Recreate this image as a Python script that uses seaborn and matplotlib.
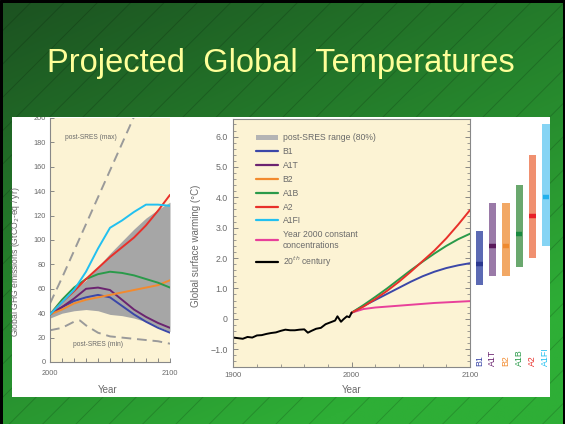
import numpy as np
import pandas as pd
import matplotlib
matplotlib.use("Agg")
import matplotlib.pyplot as plt
import seaborn as sns
from matplotlib.patches import Rectangle, Patch
from matplotlib.lines import Line2D

# ---------------- data ----------------
emis_years = [2000, 2010, 2020, 2030, 2040, 2050, 2060, 2070, 2080, 2090, 2100]
emis_B1   = [39, 45, 50, 53, 55, 53, 46, 39, 33, 28, 24]
emis_A1T  = [39, 45, 52, 60, 61, 59, 51, 43, 37, 32, 28]
emis_B2   = [39, 43, 48, 51, 53, 55, 57, 59, 61, 63, 67]
emis_A1B  = [39, 51, 61, 68, 72, 74, 73, 71, 68, 65, 61]
emis_A2   = [39, 49, 58, 68, 77, 86, 94, 102, 112, 124, 137]
emis_A1FI = [39, 49, 59, 74, 93, 110, 116, 123, 129, 129, 128]
range_low  = [36, 40, 42, 43, 42, 39, 38, 36, 33, 29, 25]
range_high = [40, 50, 59, 67, 78, 89, 99, 109, 118, 125, 131]
max_years = [2000, 2010, 2020, 2030, 2040, 2050, 2060, 2070]
max_vals  = [48, 69, 91, 113, 135, 157, 179, 201]
min_years = [2000, 2010, 2020, 2025, 2030, 2040, 2050, 2060, 2070, 2080, 2090, 2100]
min_vals  = [26, 28, 33, 34, 30, 24, 21, 20, 19, 18, 17, 15]

hist_years = [1900, 1904, 1908, 1912, 1916, 1920, 1924, 1928, 1932, 1936, 1940,
              1944, 1948, 1952, 1956, 1960, 1963, 1966, 1970, 1974, 1978, 1982,
              1986, 1988, 1991, 1993, 1996, 1998, 2000]
hist_temp = [-0.62, -0.64, -0.66, -0.60, -0.62, -0.55, -0.54, -0.50, -0.47, -0.45, -0.40,
             -0.36, -0.38, -0.38, -0.36, -0.35, -0.46, -0.40, -0.33, -0.30, -0.18, -0.12,
             -0.06, 0.08, -0.10, -0.02, 0.08, 0.05, 0.20]
proj_years = [2000, 2010, 2020, 2030, 2040, 2050, 2060, 2070, 2080, 2090, 2100]
temp_B1    = [0.20, 0.42, 0.62, 0.82, 1.02, 1.22, 1.40, 1.55, 1.67, 1.76, 1.83]
temp_A1B   = [0.20, 0.45, 0.72, 1.00, 1.30, 1.60, 1.88, 2.15, 2.40, 2.62, 2.80]
temp_A2    = [0.20, 0.40, 0.65, 0.92, 1.22, 1.55, 1.90, 2.25, 2.65, 3.10, 3.58]
temp_const = [0.20, 0.32, 0.37, 0.40, 0.43, 0.46, 0.49, 0.52, 0.54, 0.56, 0.58]

bar_scen = ["B1", "A1T", "B2", "A1B", "A2", "A1FI"]
bar_best = [1.8, 2.4, 2.4, 2.8, 3.4, 4.0]
bar_low  = [1.1, 1.4, 1.4, 1.7, 2.0, 2.4]
bar_high = [2.9, 3.8, 3.8, 4.4, 5.4, 6.4]

# ---------------- styles ----------------
line_col = {"B1": "#3b47a8", "A1T": "#6b2470", "B2": "#f28a2e", "A1B": "#2a9a4a",
            "A2": "#e8302a", "A1FI": "#22c0f0"}
bar_col = {"B1": "#5c6ab4", "A1T": "#9a7aa8", "B2": "#f2a865", "A1B": "#6aa86e",
           "A2": "#f09070", "A1FI": "#86d4f4"}
dot_col = {"B1": "#2c3890", "A1T": "#5a1a5c", "B2": "#ee8a30", "A1B": "#1a8a40",
           "A2": "#e82028", "A1FI": "#22b0ec"}
const_col = "#e8409a"
cream = "#fcf3d4"
txt = "#6a6a6a"
FONT = "Liberation Sans"

sns.set_theme(style="white")
plt.rcParams["font.family"] = [FONT, "DejaVu Sans"]
plt.rcParams["hatch.linewidth"] = 0.6

W, H = 565, 424
fig = plt.figure(figsize=(W / 100, H / 100), dpi=100)


def rect(x0, y0, x1, y1):
    return [x0 / W, 1 - y1 / H, (x1 - x0) / W, (y1 - y0) / H]


# ---------------- slide background ----------------
bg = fig.add_axes([0, 0, 1, 1])
bg.set_xlim(0, W)
bg.set_ylim(H, 0)
bg.axis("off")
bg.add_patch(Rectangle((0, 0), W, H, color="black", zorder=0))
gx, gy = np.meshgrid(np.linspace(0, 1, 300), np.linspace(0, 1, 300))
t = np.clip(0.45 * gx + 0.75 * gy, 0, 1)[..., None]
c0 = np.array([0x1c, 0x52, 0x21]) / 255
c1 = np.array([0x2e, 0xae, 0x36]) / 255
img = c0 * (1 - t) + c1 * t
bg.imshow(img, extent=(3, 563, H, 3), aspect="auto", zorder=1, interpolation="bilinear")
bg.add_patch(Rectangle((3, 3), 560, H - 3, fill=False, hatch="/",
                       edgecolor=(0, 0, 0, 0.18), lw=0, zorder=2))
panel = Rectangle((12, 117), 538, 280, facecolor="white", edgecolor="none", zorder=3)
bg.add_patch(panel)
bg.text(281, 72, "Projected  Global  Temperatures", ha="center", va="baseline",
        fontsize=23.5, color="#ffff99", zorder=4)

# ---------------- left: emissions ----------------
ax1 = fig.add_axes(rect(50, 118, 170, 362))
ax1.set_facecolor(cream)
ax1.fill_between(emis_years, range_low, range_high, color="#a6a6a6", lw=0, zorder=1)
emis = pd.DataFrame({
    "year": emis_years * 6,
    "value": emis_B1 + emis_A1T + emis_B2 + emis_A1B + emis_A2 + emis_A1FI,
    "scen": sum([[s] * len(emis_years) for s in ["B1", "A1T", "B2", "A1B", "A2", "A1FI"]], []),
})
sns.lineplot(data=emis, x="year", y="value", hue="scen", palette=line_col,
             lw=1.4, legend=False, ax=ax1, zorder=3)
sns.lineplot(x=max_years, y=max_vals, color="#9a9a9a", lw=1.4, ax=ax1, zorder=2)
ax1.lines[-1].set_dashes((5, 3))
sns.lineplot(x=min_years, y=min_vals, color="#9a9a9a", lw=1.4, ax=ax1, zorder=2)
ax1.lines[-1].set_dashes((5, 3))
ax1.text(2034, 184, "post-SRES (max)", ha="center", va="center", fontsize=4.8, color=txt)
ax1.text(2040, 14, "post-SRES (min)", ha="center", va="center", fontsize=4.8, color=txt)
ax1.set_xlim(2000, 2100)
ax1.set_ylim(0, 200)
ax1.set_xticks(np.arange(2000, 2101, 10))
ax1.set_xticklabels(["2000"] + [""] * 9 + ["2100"])
ax1.set_yticks(np.arange(0, 201, 20))
ax1.tick_params(direction="in", length=3, width=0.6, color="#777777", labelsize=5.3,
                labelcolor=txt, left=True, bottom=True)
ax1.tick_params(axis="x", pad=6)
ax1.tick_params(axis="y", pad=3)
for s in ["top", "right"]:
    ax1.spines[s].set_visible(False)
for s in ["left", "bottom"]:
    ax1.spines[s].set_color("#888888")
    ax1.spines[s].set_linewidth(0.8)
ax1.set_xlabel("Year", fontsize=7, color=txt)
ax1.set_ylabel("Global GHG emissions (GtCO$_2$-eq / yr)", fontsize=6.2, color=txt)
ax1.xaxis.set_label_coords(0.48, -0.094)
ax1.xaxis.label.set_va("top")
ax1.yaxis.set_label_coords(-0.235, 0.41)
for lbl in ax1.get_yticklabels():
    lbl.set_clip_path(panel)

# ---------------- middle: temperature ----------------
ax2 = fig.add_axes(rect(233.3, 119.3, 470, 366.7))
ax2.set_facecolor(cream)
temps = pd.DataFrame({
    "year": proj_years * 4,
    "value": temp_const + temp_B1 + temp_A1B + temp_A2,
    "scen": sum([[s] * len(proj_years) for s in ["const", "B1", "A1B", "A2"]], []),
})
pal2 = {"const": const_col, "B1": line_col["B1"], "A1B": line_col["A1B"], "A2": line_col["A2"]}
sns.lineplot(data=temps, x="year", y="value", hue="scen", palette=pal2, lw=1.4,
             legend=False, ax=ax2)
sns.lineplot(x=hist_years, y=hist_temp, color="black", lw=1.4, ax=ax2)
ax2.set_xlim(1900, 2100)
ax2.set_ylim(-1.58, 6.57)
ax2.set_xticks([1900, 2000, 2100])
ax2.set_xticks(np.arange(1900, 2101, 20), minor=True)
ax2.set_yticks(np.arange(-1, 6.1, 1))
ax2.set_yticklabels(["\u22121.0", "0", "1.0", "2.0", "3.0", "4.0", "5.0", "6.0"])
ax2.set_yticks(np.arange(-1.4, 6.5, 0.2), minor=True)
ax2.tick_params(which="both", direction="in", color="#777777", labelsize=6.3,
                labelcolor=txt, left=True, right=True, bottom=True)
ax2.tick_params(which="major", length=3.5, width=0.6)
ax2.tick_params(which="minor", length=2, width=0.5)
ax2.tick_params(axis="x", labelsize=5.6, pad=4)
ax2.tick_params(axis="y", pad=4)
for s in ax2.spines.values():
    s.set_color("#888888")
    s.set_linewidth(0.8)
ax2.set_xlabel("Year", fontsize=7, color=txt)
ax2.set_ylabel("Global surface warming (\u00b0C)", fontsize=7, color=txt)
ax2.xaxis.set_label_coords(0.50, -0.074)
ax2.xaxis.label.set_va("top")
ax2.yaxis.set_label_coords(-0.135, 0.49)

handles = [Patch(facecolor="#b4b4b4", edgecolor="none")]
labels = ["post-SRES range (80%)"]
for s in ["B1", "A1T", "B2", "A1B", "A2", "A1FI"]:
    handles.append(Line2D([], [], color=line_col[s], lw=1.6))
    labels.append(s)
handles.append(Line2D([], [], color=const_col, lw=1.6))
labels.append("Year 2000 constant\nconcentrations")
handles.append(Line2D([], [], color="black", lw=1.6))
labels.append("20$^{th}$ century")
leg = ax2.legend(handles, labels, loc="upper left", bbox_to_anchor=(0.088, 0.95),
                 borderaxespad=0, borderpad=0.2, frameon=False, fontsize=6.2,
                 handlelength=2.6, handleheight=0.6, handletextpad=0.5,
                 labelspacing=0.56, labelcolor=txt)

# ---------------- right: range bars ----------------
ax3 = fig.add_axes(rect(472.6, 119.3, 552.5, 366.7))
ax3.set_facecolor("none")
pos = np.arange(len(bar_scen))
heights = np.array(bar_high) - np.array(bar_low)
ax3.bar(pos, heights, bottom=bar_low, width=0.55,
        color=[bar_col[s] for s in bar_scen], edgecolor="none")
ax3.scatter(pos, bar_best, marker="_", s=22, linewidths=3.2,
            color=[dot_col[s] for s in bar_scen], zorder=3)
for i, s in enumerate(bar_scen):
    ax3.text(i, -1.55, s, rotation=90, ha="center", va="bottom", fontsize=6.3,
             color=line_col[s])
ax3.set_xlim(-0.5, 5.5)
ax3.set_ylim(-1.58, 6.57)
ax3.axis("off")

fig.savefig("out.png", dpi=100)
